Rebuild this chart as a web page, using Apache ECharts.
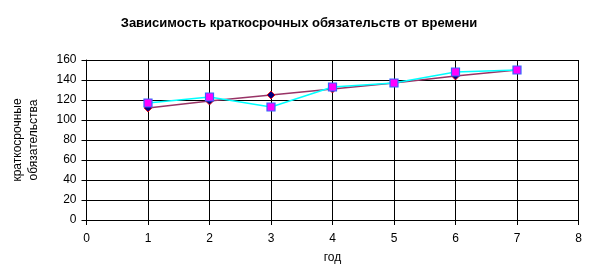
<!DOCTYPE html>
<html><head><meta charset="utf-8">
<script src="https://cdn.jsdelivr.net/npm/echarts@6/dist/echarts.min.js"></script>
<style>html,body{margin:0;padding:0;background:#fff}#c{width:589px;height:273px}</style>
</head><body><div id="c"></div>
<script>
var years = [1, 2, 3, 4, 5, 6, 7];
var trendValues = [112, 119, 125, 131, 137, 144, 150];
var actualValues = [117, 123, 113, 133, 137, 148, 150];
var titleText = 'Зависимость краткосрочных обязательств от времени';
var yName = 'краткосрочные\nобязательства';
var xName = 'год';

var chart = echarts.init(document.getElementById('c'), null, {renderer: 'canvas'});
var font = 'Liberation Sans, Arial, sans-serif';
chart.setOption({
  animation: false,
  backgroundColor: '#fff',
  title: {text: titleText, left: 294, top: 12, textAlign: 'center',
    textStyle: {fontFamily: font, fontSize: 13, fontWeight: 'bold', color: '#000'}},
  grid: {left: 86.5, right: 10.5, top: 60, bottom: 53, containLabel: false, outerBoundsMode: 'none'},
  xAxis: {type: 'value', min: 0, max: 8, interval: 1,
    name: xName, nameLocation: 'middle', nameGap: 32,
    nameTextStyle: {fontFamily: font, fontSize: 12, color: '#000'},
    axisLine: {show: true, onZero: false, lineStyle: {color: '#000', width: 1}},
    axisTick: {show: true, inside: false, length: 5, lineStyle: {color: '#000'}},
    axisLabel: {fontFamily: font, fontSize: 12, color: '#000', margin: 13},
    splitLine: {show: true, lineStyle: {color: '#000', width: 1}}},
  yAxis: {type: 'value', min: 0, max: 160, interval: 20,
    name: yName, nameLocation: 'middle', nameGap: 45, nameRotate: 90,
    nameTextStyle: {fontFamily: font, fontSize: 12, color: '#000', lineHeight: 16, align: 'center'},
    axisLine: {show: true, lineStyle: {color: '#000', width: 1}},
    axisTick: {show: true, inside: false, length: 5, lineStyle: {color: '#000'}},
    axisLabel: {fontFamily: font, fontSize: 12, color: '#000', margin: 10},
    splitLine: {show: true, lineStyle: {color: '#000', width: 1}}},
  series: [
    {type: 'line', data: years.map(function(x, i){return [x, trendValues[i]];}),
      symbol: 'diamond', symbolSize: 8,
      itemStyle: {color: '#000080', borderColor: '#ff0000', borderWidth: 0.8},
      lineStyle: {color: '#993366', width: 1.5}, z: 3},
    {type: 'line', data: years.map(function(x, i){return [x, actualValues[i]];}),
      symbol: 'rect', symbolSize: 8,
      itemStyle: {color: '#ff00ff', borderColor: '#3366ff', borderWidth: 1.2},
      lineStyle: {color: '#00ffff', width: 1.5}, z: 4}
  ]
});
</script></body></html>
